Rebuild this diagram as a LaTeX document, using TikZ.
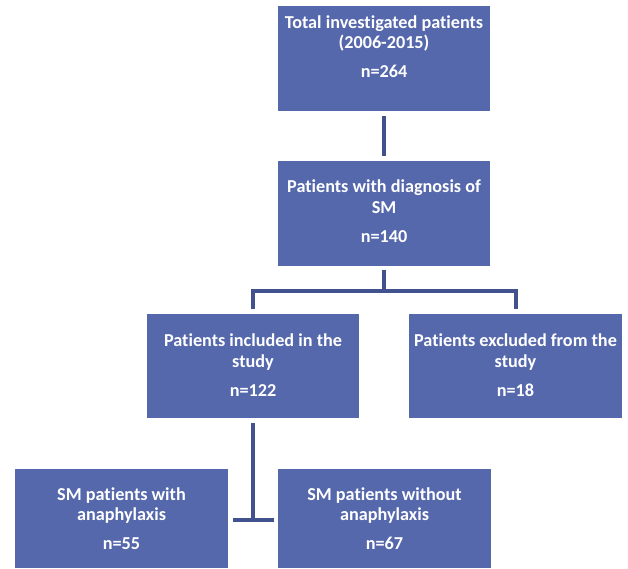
\documentclass[tikz,border=0pt]{standalone}
\usepackage{fontspec}
\setmainfont[Ligatures=NoCommon]{Carlito}
\usetikzlibrary{calc}
\definecolor{boxblue}{HTML}{5568AC}
\definecolor{linkblue}{HTML}{41528E}
\begin{document}
\begin{tikzpicture}[x=1pt,y=-1pt,
  box/.style={draw=none,fill=boxblue,minimum width=212pt,minimum height=105pt,inner sep=0pt,outer sep=0pt},
  txt/.style={anchor=north,inner sep=0pt,text=white,align=center,font=\fontsize{18.2}{20.5}\selectfont\bfseries},
  link/.style={draw=linkblue,line width=4pt}]
\useasboundingbox (0,0) rectangle (628,568);
\node[box] (b1) at (384,58.5) {};
\node[box] (b2) at (384,213) {};
\node[box,minimum height=104pt] (b3) at (253,366) {};
\node[box,minimum width=213pt,minimum height=104pt] (b4) at (515.5,366) {};
\node[box,minimum width=213pt,minimum height=99pt] (b5) at (121.5,518.5) {};
\node[box,minimum width=213pt,minimum height=99pt] (b6) at (384.5,518.5) {};
\node[txt] (t1) at ($(b1.north)+(0,9.5)$) {Total investigated patients\\(2006-2015)\\[8.5pt]n=264};
\node[txt] (t2) at ($(b2.north)+(0,19.5)$) {Patients with diagnosis of\\SM\\[8.5pt]n=140};
\node[txt] (t3) at ($(b3.north)+(0,20)$) {Patients included in the\\study\\[9pt]n=122};
\node[txt] (t4) at ($(b4.north)+(0,20)$) {Patients excluded from the\\study\\[9pt]n=18};
\node[txt] (t5) at ($(b5.north)+(0,18.5)$) {SM patients with\\anaphylaxis\\[8pt]n=55};
\node[txt] (t6) at ($(b6.north)+(0,18.5)$) {SM patients without\\anaphylaxis\\[8pt]n=67};
\draw[link,shorten <=5pt,shorten >=5pt] (b1.south) -- (b2.north);
\coordinate (hm) at (b2.south |- 0,291);
\coordinate (hl) at (b3.north |- 0,291);
\coordinate (hr) at (b4.north |- 0,291);
\coordinate (d3) at ($(b3.north)+(0,-5)$);
\coordinate (d4) at ($(b4.north)+(0,-5)$);
\draw[link,shorten <=4pt] (b2.south) -- (hm);
\draw[link] (d3) -- (hl) -- (hr) -- (d4);
\coordinate (t) at (b3.south |- 0,520);
\coordinate (tl) at (233,520);
\coordinate (tr) at (274,520);
\draw[link,shorten <=5pt] (b3.south) -- (t);
\draw[link] (tl) -- (tr);
\end{tikzpicture}
\end{document}
